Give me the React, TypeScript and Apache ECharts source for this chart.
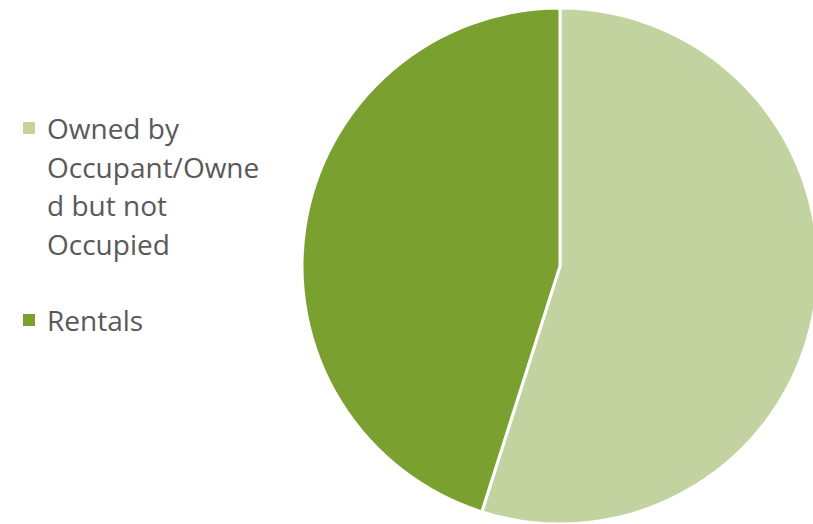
import React, { useEffect, useRef } from "react";
import * as echarts from "echarts";

const categories = ["Owned by Occupant/Owned but not Occupied", "Rentals"];
const legendLines = [["Owned by", "Occupant/Owne", "d but not", "Occupied"], ["Rentals"]];
const values = [54.9, 45.1];
const colors = ["#C3D3A0", "#7AA030"];

export default function App() {
  const ref = useRef<HTMLDivElement>(null);
  useEffect(() => {
    if (!ref.current) return;
    const chart = echarts.init(ref.current, null, { renderer: "svg" });
    const lineH = 38.7;
    const legendTops = [128, 320];
    const graphic: any[] = [];
    categories.forEach((c, i) => {
      graphic.push({
        type: "rect",
        shape: { x: 23, y: legendTops[i] - 6, width: 12, height: 12 },
        style: { fill: colors[i] },
      });
      legendLines[i].forEach((ln, j) => {
        graphic.push({
          type: "text",
          x: 47,
          y: legendTops[i] + j * lineH,
          style: {
            text: ln,
            fill: "#595959",
            font: "28px 'Open Sans'",
            textVerticalAlign: "middle",
            verticalAlign: "middle",
          },
        });
      });
    });
    chart.setOption({
      animation: false,
      graphic,
      series: [
        {
          type: "pie",
          center: [560, 266],
          radius: 258,
          startAngle: 90,
          clockwise: true,
          label: { show: false },
          labelLine: { show: false },
          itemStyle: { borderColor: "#ffffff", borderWidth: 3 },
          emphasis: { disabled: true },
          data: categories.map((c, i) => ({ name: c, value: values[i], itemStyle: { color: colors[i] } })),
        },
      ],
    });
    return () => chart.dispose();
  }, []);
  return <div ref={ref} style={{ position: "fixed", left: 0, top: 0, width: 813, height: 524, background: "#fff" }} />;
}
